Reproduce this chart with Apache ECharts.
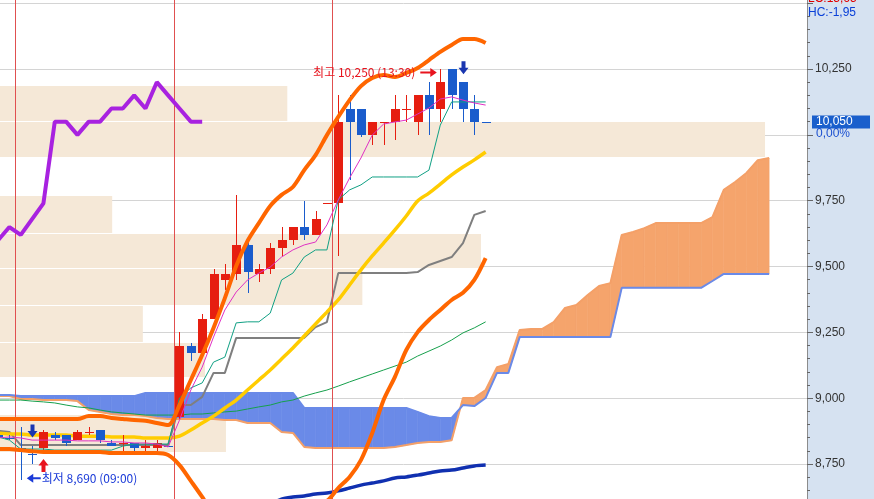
<!DOCTYPE html>
<html><head><meta charset="utf-8">
<script src="https://cdn.jsdelivr.net/npm/echarts@6/dist/echarts.min.js"></script>
<style>html,body{margin:0;padding:0;background:#fff;overflow:hidden}#c{width:874px;height:499px}</style>
</head><body><div id="c"></div>
<script>
// ---------- data (candle index 0 = 09:00 of the first day shown) ----------
const firstIndex = -2;
// [open, close, low, high]
const candleOHLC = [
  [8860,8850,8840,8870],[8850,8850,8840,8860],
  [8810,8800,8690,8890],[8790,8790,8750,8820],[8810,8870,8800,8880],[8860,8850,8840,8870],
  [8860,8830,8820,8860],[8840,8870,8840,8880],[8870,8870,8860,8890],[8880,8840,8830,8880],
  [8830,8820,8820,8840],[8830,8830,8800,8860],[8830,8810,8800,8830],[8810,8820,8800,8840],
  [8810,8830,8800,8840],[8820,8820,8820,8820],
  [8930,9200,8920,9250],[9200,9170,9140,9210],[9170,9300,9170,9320],[9300,9470,9300,9490],
  [9450,9470,9410,9510],[9470,9580,9450,9770],[9580,9480,9400,9600],[9470,9490,9440,9510],
  [9490,9570,9470,9590],[9570,9600,9540,9650],[9600,9650,9580,9650],[9650,9620,9600,9750],
  [9620,9680,9620,9710],[9740,9740,9740,9740],
  [9740,10050,9540,10150],[10100,10050,9830,10150],[10100,10000,9990,10100],[10000,10050,9960,10050],
  [10050,10050,9960,10050],[10050,10100,9980,10150],[10100,10100,10050,10150],[10050,10150,10000,10150],
  [10150,10100,10000,10200],[10100,10200,10050,10250],[10250,10150,10100,10250],[10200,10100,10050,10200],
  [10100,10050,10000,10150],[10050,10050,10050,10050]
];
// 1 = rising (red), 0 = falling (blue)
const candleRise = [0,0, 0,0,1,0,0,1,1,0,0,1,0,1,1,0, 1,0,1,1,1,1,0,1,1,1,1,0,1,1, 1,0,0,1,1,1,1,1,0,1,0,0,0,0];

const chikou = [9600,9650,9620,9680,9740,10050,10050,10000,10050,10050,10100,10100,10150,10100,10200,10150,10100,10050,10050];
const bbUpper = [8921,8921,8921,8921,8921,8921,8921,8921,8932,8932,8925,8921,8917,8914,8906,8898,
  8974,9069,9164,9267,9380,9502,9597,9665,9730,9772,9802,9866,9923,9999,
  10068,10132,10185,10216,10227,10220,10235,10254,10284,10315,10341,10364,10364,10349];
const bbLower = [8807,8807,8803,8799,8796,8796,8796,8796,8796,8796,8792,8792,8792,8792,8792,8784,
  8746,8686,8625,8560,8520,8480,8460,8470,8480,8520,8560,8590,8600,8610,
  8659,8701,8765,8868,8993,9081,9183,9251,9297,9335,9373,9400,9449,9532];
const ma20 = [8868,8864,8864,8860,8860,8860,8860,8856,8856,8856,8853,8853,8853,8849,8849,8849,
  8856,8879,8906,8932,8963,8993,9031,9069,9107,9149,9191,9236,9282,9327,
  9373,9430,9487,9540,9589,9639,9692,9749,9779,9813,9848,9878,9905,9935];
const kijun = [8876,8872,8822,8822,8822,8822,8822,8822,8822,8822,8822,8822,8822,8822,8822,8822,
  8974,8974,9005,9096,9096,9229,9229,9229,9229,9229,9229,9229,9270,9289,
  9475,9475,9475,9475,9475,9475,9475,9479,9506,9521,9536,9589,9696,9711];
const tenkan = [8853,8841,8807,8807,8807,8803,8803,8803,8803,8803,8803,8818,8826,8826,8826,8826,
  9001,9039,9058,9137,9156,9286,9290,9290,9323,9449,9475,9536,9563,9563,
  9753,9791,9810,9840,9840,9840,9840,9840,9866,10037,10125,10125,10125,10125];
const ma5 = [8849,8853,8849,8841,8841,8841,8841,8838,8838,8838,8834,8834,8830,8830,8826,8815,
  8917,9031,9118,9232,9335,9403,9449,9475,9498,9536,9563,9582,9593,9658,
  9753,9836,9912,9999,10041,10049,10056,10079,10102,10136,10144,10132,10121,10113];
const ma60 = [8993,8993,8993,8989,8986,8982,8974,8967,8963,8955,8948,8944,8940,8936,8936,8936,
  8936,8940,8940,8944,8948,8951,8959,8967,8974,8986,8993,9008,9020,9031,
  9046,9062,9077,9092,9107,9122,9137,9160,9179,9198,9221,9248,9267,9290];
const ma120 = [null,null,null,null,null,null,null,null,null,null,null,null,null,null,null,null,
  null,null,null,null,null,null,null,null,8595,8617,8625,8629,8636,8640,
  8648,8659,8670,8678,8686,8697,8701,8708,8716,8724,8727,8735,8743,8746];
const spanA = [9008,9008,8997,8997,8993,8993,8993,8989,8955,8948,8940,8936,8936,8932,8925,8921,
  8921,8921,8921,8921,8917,8917,8906,8906,8906,8872,8868,8815,8811,8811,
  8811,8811,8811,8811,8811,8815,8822,8830,8834,8834,8840,9001,9001,9031,
  9118,9130,9259,9263,9263,9289,9343,9354,9392,9426,9437,9620,9631,9646,9665,9665,9665,9665,9665,9688,9791,9821,9855,9904,9912];
const spanB = [9012,9012,9008,9008,9008,9008,9008,9008,9008,9008,9008,9008,9008,9020,9020,9020,
  9020,9020,9020,9020,9020,9020,9020,9020,9020,9020,9020,8963,8963,8963,
  8963,8963,8963,8963,8963,8963,8963,8948,8932,8925,8925,8974,8970,9001,
  9096,9096,9232,9232,9232,9232,9232,9232,9232,9232,9232,9419,9419,9419,9419,9419,9419,9419,9419,9445,9472,9472,9472,9472,9472];
// volume by price: bin edges (bottom to top) and volume per bin
const volEdges = [8796,8940,9079,9215,9354,9493,9629,9772,9914,10051,10189];
const volByPrice = [280,0,254,177,449,596,139,0,948,356];
const daySeparators = [-0.5,13.5,27.5];
const highInfo = {index:37, price:10250, text:'최고 10,250 (13:30)'};
const lowInfo = {index:0, price:8690, text:'최저 8,690 (09:00)'};
const sellSignals = [1,39];
const buySignals = [2];
const lastPrice = 10050;
const lastChange = '0,00%';
const lcText = 'LC:15,65', hcText = 'HC:-1,95';

// ---------- chart ----------
const RED = '#e61e10', BLUE = '#1a5ccc';
const CLOUD_OR = '#f5a46c', CLOUD_BL = '#6a8ae8';
const xy = (arr, start) => arr.map((v,k)=>[(start===undefined?firstIndex:start)+k, v]);
const fmt = v => String(v).replace(/\B(?=(\d{3})+(?!\d))/g, ',');
const chart = echarts.init(document.getElementById('c'), null, {renderer:'canvas'});

function lineS(data, color, width, z, smooth){
  return {type:'line', data, showSymbol:false, symbol:'none', silent:true, z, clip:true,
    smooth: smooth || false, lineStyle:{color, width}, animation:false};
}
const candleData = candleOHLC.map((d,k)=>[firstIndex+k, d[0], d[1], d[2], d[3], candleRise[k]]);
const cloudSeg = [];
for (let k=0;k<spanA.length-1;k++) cloudSeg.push([firstIndex+k, spanA[k], spanB[k], firstIndex+k+1, spanA[k+1], spanB[k+1]]);
const volData = volByPrice.map((v,k)=>[v, volEdges[k], volEdges[k+1]]);

const option = {
  animation:false,
  backgroundColor:'#d6e2f1',
  textStyle:{fontFamily:'"Liberation Sans", Arial, sans-serif'},
  grid:{left:0, right:67, top:-62.68, height:592.57, show:true, backgroundColor:'#ffffff', borderWidth:0,
    containLabel:false, outerBoundsMode:'none'},
  xAxis:[
    {type:'value', min:-1.83, max:69.34, show:false},
    {type:'value', min:0, max:1000, show:false}
  ],
  yAxis:{type:'value', position:'right', min:8500, max:10750, interval:250,
    axisLine:{show:true, onZero:false, lineStyle:{color:'#8c8c8c', width:1}},
    axisTick:{show:true, length:6, lineStyle:{color:'#666'}},
    minorTick:{show:true, splitNumber:5, length:3, lineStyle:{color:'#666'}},
    splitLine:{show:true, lineStyle:{color:'#d4d4d4', width:1}},
    axisLabel:{margin:8, color:'#333', fontSize:12, fontFamily:'"Liberation Sans", Arial, sans-serif',
      formatter:v => (v>=10500 || v<8600 || Math.abs(v-lastPrice)<100) ? '' : fmt(v)}
  },
  series:[
    {type:'line', data:[], silent:true, z:1,
      markLine:{silent:true, symbol:['none','none'], label:{show:false}, animation:false,
        lineStyle:{color:'#e05050', width:1, type:'solid'},
        data: daySeparators.map(v=>({xAxis:v}))}},
    {type:'custom', xAxisIndex:1, yAxisIndex:0, z:2, silent:true, data:volData,
      encode:{x:0, y:[1,2]},
      renderItem:(p, api)=>{
        const v = api.value(0); if (!v) return null;
        const a = api.coord([0, api.value(2)]), b = api.coord([v, api.value(1)]);
        return {type:'rect', shape:{x:a[0], y:Math.round(a[1])+1, width:b[0]-a[0], height:Math.round(b[1])-Math.round(a[1])-1},
          style:{fill:'#f5e8d7'}};
      }},
    {type:'custom', z:3, silent:true, clip:true, data:cloudSeg, encode:{x:[0,3], y:[1,2,4,5]},
      renderItem:(p, api)=>{
        const x0=api.value(0), a0=api.value(1), b0=api.value(2), x1=api.value(3), a1=api.value(4), b1=api.value(5);
        const A0=api.coord([x0,a0]), B0=api.coord([x0,b0]), A1=api.coord([x1,a1]), B1=api.coord([x1,b1]);
        const d0=a0-b0, d1=a1-b1;
        const col = d => d>0 ? CLOUD_OR : CLOUD_BL;
        const polys=[];
        if (d0*d1 >= 0) polys.push({pts:[A0,A1,B1,B0], c:col(d0+d1)});
        else {
          const t = d0/(d0-d1);
          const P=[A0[0]+(A1[0]-A0[0])*t, A0[1]+(A1[1]-A0[1])*t];
          polys.push({pts:[A0,P,B0], c:col(d0)});
          polys.push({pts:[P,A1,B1], c:col(d1)});
        }
        return {type:'group', children:polys.map(q=>({type:'polygon', shape:{points:q.pts}, style:{fill:q.c, stroke:q.c, lineWidth:0.6}}))};
      }},
    lineS(xy(spanA), '#f4a068', 2, 3),
    lineS(xy(spanB), '#6a8ae8', 2, 3),
    lineS(xy(ma60), '#16a04c', 1, 4),
    lineS(xy(ma120), '#1030b0', 3.5, 4, 0.3),
    lineS(xy(kijun), '#7f7f7f', 2, 4),
    lineS(xy(ma20), '#ffcc00', 3.5, 4, 0.3),
    {type:'custom', z:5, silent:true, clip:true, data:candleData, encode:{x:0, y:[1,2,3,4]},
      renderItem:(p, api)=>{
        const x=api.value(0), o=api.value(1), c=api.value(2), l=api.value(3), h=api.value(4);
        const color = api.value(5) ? RED : BLUE;
        const pO=api.coord([x,o]), pC=api.coord([x,c]), pL=api.coord([x,l]), pH=api.coord([x,h]);
        const w = Math.round(api.size([1,0])[0]*0.8);
        const cx = Math.round(pO[0]) + 0.5;
        const top=Math.min(pO[1],pC[1]), bot=Math.max(pO[1],pC[1]);
        const ch=[{type:'line', shape:{x1:cx, y1:Math.round(pH[1]), x2:cx, y2:Math.round(pL[1])}, style:{stroke:color, lineWidth:1}}];
        if (bot-top < 1.5) {
          const yy = Math.round(top)+0.5;
          ch.push({type:'line', shape:{x1:cx-w/2, y1:yy, x2:cx+w/2, y2:yy}, style:{stroke:color, lineWidth:1}});
        } else {
          ch.push({type:'rect', shape:{x:Math.round(cx-w/2), y:Math.round(top), width:w, height:Math.round(bot)-Math.round(top)}, style:{fill:color}});
        }
        return {type:'group', children:ch};
      }},
    lineS(xy(tenkan), '#10a084', 1, 6),
    lineS(xy(ma5), '#e030c4', 1, 6),
    lineS(xy(chikou), '#a822e0', 4, 6),
    lineS(xy(bbUpper), '#ff6600', 4, 6, 0.3),
    lineS(xy(bbLower), '#ff6600', 4, 6, 0.3)
  ]
};
chart.setOption(option);

// ---------- annotations placed through the axes ----------
const toPx = (x, v) => chart.convertToPixel({xAxisIndex:0, yAxisIndex:0}, [x, v]);
const KFONT = '12px "Noto Sans CJK KR", sans-serif';
const g = [];
function txt(x, y, text, fill, align, font, z){
  return {type:'text', x, y, z: z||100, silent:true,
    style:{text, fill, font: font||KFONT, align: align||'left', verticalAlign:'middle', textAlign: align||'left', textVerticalAlign:'middle'}};
}
function poly(points, fill){ return {type:'polygon', z:100, silent:true, shape:{points}, style:{fill}}; }

// high
{
  const [hx, hy] = toPx(highInfo.index, highInfo.price);
  const ay = hy + 3.5;
  g.push(txt(hx-25, ay, highInfo.text, '#e8141e', 'right'));
  g.push(poly([[hx-20,ay-1],[hx-10,ay-1],[hx-10,ay-4.5],[hx-3.5,ay],[hx-10,ay+4.5],[hx-10,ay+1],[hx-20,ay+1]], '#e8141e'));
}
// low
{
  const [lx, ly] = toPx(lowInfo.index, lowInfo.price);
  const ay = ly - 1.5;
  g.push(txt(lx+21, ay, lowInfo.text, '#1a3ad8', 'left'));
  g.push(poly([[lx+6,ay],[lx+12.5,ay-4.5],[lx+12.5,ay-1],[lx+20,ay-1],[lx+20,ay+1],[lx+12.5,ay+1],[lx+12.5,ay+4.5]], '#1a3ad8'));
}
// signals
sellSignals.forEach(i=>{
  const c = candleOHLC[i-firstIndex];
  const [sx, sy] = toPx(i, c[3]);
  const t = sy - 8, x = Math.round(sx)+0.5;
  g.push(poly([[x-2,t-13],[x+2,t-13],[x+2,t-6.5],[x+5,t-6.5],[x,t],[x-5,t-6.5],[x-2,t-6.5]], '#1a36b0'));
});
buySignals.forEach(i=>{
  const c = candleOHLC[i-firstIndex];
  const [bx, by] = toPx(i, c[2]);
  const t = by + 8, x = Math.round(bx)+0.5;
  g.push(poly([[x-2,t+13],[x+2,t+13],[x+2,t+6.5],[x+5,t+6.5],[x,t],[x-5,t+6.5],[x-2,t+6.5]], '#e8141e'));
});
// right panel texts
{
  const [ax, py] = toPx(69.34, lastPrice);
  g.push({type:'rect', z:100, silent:true, shape:{x:ax+5, y:Math.round(py)-6.5, width:58, height:13}, style:{fill:'#1a5fcc'}});
  g.push(txt(ax+9, Math.round(py), fmt(lastPrice), '#ffffff', 'left', '12px "Liberation Sans", Arial, sans-serif', 101));
  g.push(txt(ax+9, Math.round(py)+12, lastChange, '#1a4fd0', 'left', '12px "Liberation Sans", Arial, sans-serif'));
  g.push(txt(ax+1, -1, lcText, '#e00000', 'left', '12px "Liberation Sans", Arial, sans-serif'));
  g.push(txt(ax+1, 13, hcText, '#0a40d8', 'left', '12px "Liberation Sans", Arial, sans-serif'));
}
chart.setOption({graphic:{elements:g}});
</script>
</body></html>
